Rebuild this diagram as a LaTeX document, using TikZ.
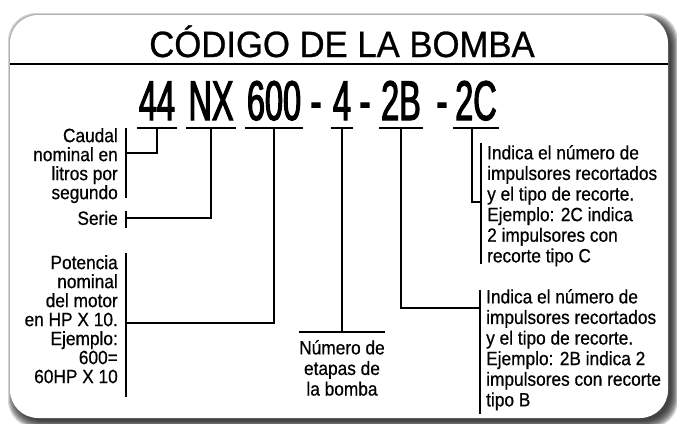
\documentclass[tikz,border=0pt]{standalone}
\usepackage{fontspec}
\setmainfont{Liberation Sans}[FakeStretch=0.9,FakeBold=0.6]
\newfontfamily\titlefont{Liberation Sans}[FakeStretch=0.95,FakeBold=0.8]
\newfontfamily\codefont{Liberation Sans}[FakeStretch=0.58,FakeBold=2]
\usepackage{xcolor}
\usetikzlibrary{positioning}
\definecolor{cardshadow}{HTML}{1A1A1A}

\begin{document}
\begin{tikzpicture}[x=1pt,y=-1pt,
  codepart/.style={font=\codefont\fontsize{56}{56}\selectfont,anchor=base,inner xsep=2pt,inner ysep=8pt,text depth=0pt},
  uline/.style={line width=1.6pt},
  link/.style={line width=1.2pt},
  lblleft/.style={font=\fontsize{19.2}{19}\selectfont,align=right,inner sep=0pt},
  lblright/.style={font=\fontsize{19.2}{20.6}\selectfont,align=left,inner sep=0pt}]
  \useasboundingbox (0,0) rectangle (677,423);
  \foreach \e in {-1,...,6}{\fill[cardshadow,opacity=0.19,rounded corners=28pt] (14-\e,19-\e) rectangle (672+\e,422+\e);}
  \fill[white,rounded corners=28pt] (10,15) rectangle (668,418);
  \draw[line width=2.2pt] (10,64) -- (668,64);
  \node[font=\titlefont\fontsize{36.5}{36}\selectfont,anchor=base] (title) at (342,57) {CÓDIGO DE LA BOMBA};
  \node[codepart] (c44) at (157,120) {44};
  \node[codepart] (cNX) at (211,120) {NX};
  \node[codepart] (c600) at (274,120) {600};
  \node[codepart] (d1) at (316,120) {-};
  \node[codepart] (c4) at (342,120) {4};
  \node[codepart] (d2) at (365,120) {-};
  \node[codepart] (c2B) at (401,120) {2B};
  \node[codepart] (d3) at (442,120) {-};
  \node[codepart] (c2C) at (476,120) {2C};
  \foreach \p in {c44,cNX,c600,c4,c2B,c2C}{\draw[uline] (\p.south west) -- (\p.south east);}
  \node[lblleft,anchor=north east] (caudal) at (118,128) {Caudal\\nominal en\\litros por\\segundo};
  \node[lblleft,anchor=east] (serie) at (118,218) {Serie};
  \node[lblleft,anchor=north east] (potencia) at (118,255) {Potencia\\nominal\\del motor\\en HP X 10.\\Ejemplo:\\600=\\60HP X 10};
  \node[font=\fontsize{19.2}{20.6}\selectfont,align=center,anchor=north,inner xsep=0pt,inner ysep=8pt,minimum width=83pt] (etapas) at (342,332) {Número de\\etapas de\\la bomba};
  \node[lblright,anchor=north west] (recorteC) at (487,145) {Indica el número de\\impulsores recortados\\y el tipo de recorte.\\Ejemplo: 2C indica\\2 impulsores con\\recorte tipo C};
  \node[lblright,anchor=north west] (recorteB) at (486,289) {Indica el número de\\impulsores recortados\\y el tipo de recorte.\\Ejemplo: 2B indica 2\\impulsores con recorte\\tipo B};
  \draw[link] ([xshift=8pt]caudal.north east) -- ([xshift=8pt,yshift=5.5pt]caudal.south east);
  \draw[link] ([xshift=8pt]serie.north east) -- ([xshift=8pt,yshift=-3pt]serie.south east);
  \draw[link] ([xshift=8pt,yshift=2pt]potencia.north east) -- ([xshift=8pt,yshift=-13pt]potencia.south east);
  \draw[link] ([xshift=-6pt,yshift=2pt]recorteC.north west) -- ([xshift=-6pt,yshift=2.5pt]recorteC.south west);
  \draw[link] ([xshift=-6pt,yshift=-1pt]recorteB.north west) -- ([xshift=-6pt,yshift=-3.5pt]recorteB.south west);
  \draw[uline] (etapas.north west) -- (etapas.north east);
  \coordinate (jCaudal) at (126,153);
  \coordinate (jPot) at (126,323);
  \coordinate (jB) at (480,308);
  \coordinate (jC) at (481,202);
  \draw[link] (c44.south) |- (jCaudal);
  \draw[link] (cNX.south) |- ([xshift=8pt]serie.east);
  \draw[link] (c600.south) |- (jPot);
  \draw[link] (c4.south) -- (etapas.north);
  \draw[link] (c2B.south) |- (jB);
  \draw[link] ([xshift=-4pt]c2C.south) |- (jC);
\end{tikzpicture}
\end{document}
